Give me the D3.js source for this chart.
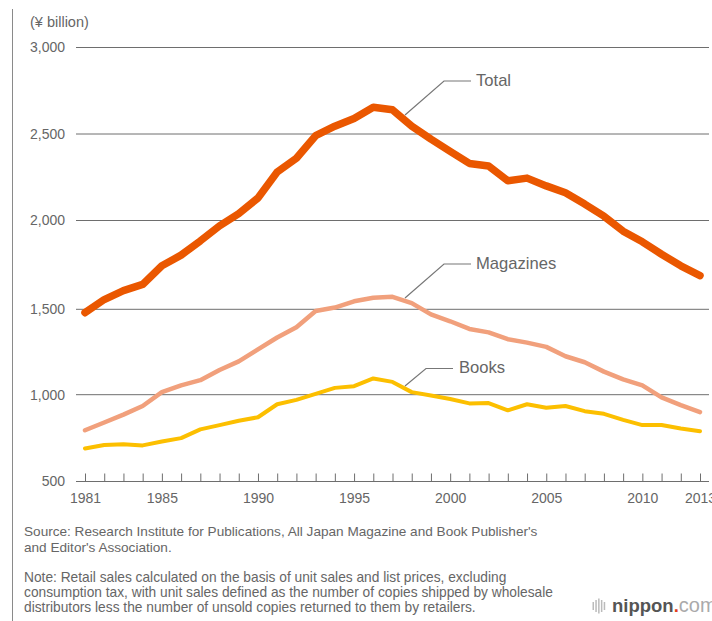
<!DOCTYPE html>
<html>
<head>
<meta charset="utf-8">
<script src="https://d3js.org/d3.v7.min.js"></script>
<style>
    html, body { margin: 0; background: #fff; overflow: hidden; }
    text { font-family: "Liberation Sans", sans-serif; fill: #666; }
</style>
</head>
<body>
<svg id="drawing_region"></svg>
<script>
const years = d3.range(1981, 2014);
const total = [1480, 1555, 1605, 1640, 1745, 1805, 1885, 1970, 2040, 2130, 2280, 2360, 2490, 2545, 2590, 2655, 2640,
    2545, 2470, 2400, 2330, 2315, 2230, 2245, 2200, 2160, 2095, 2025, 1940, 1880, 1810, 1745, 1690];
const magazines = [795, 840, 885, 935, 1015, 1055, 1085, 1145, 1195, 1265, 1335, 1395, 1490, 1510, 1545, 1565, 1570,
    1535, 1470, 1430, 1385, 1365, 1325, 1305, 1280, 1225, 1190, 1135, 1090, 1055, 985, 940, 900];
const books = [690, 710, 715, 708, 730, 750, 800, 825, 850, 870, 945, 970, 1005, 1040, 1050, 1095, 1075,
    1015, 995, 975, 950, 952, 910, 945, 925, 935, 905, 890, 855, 825, 825, 805, 790];
const y_ticks = [500, 1000, 1500, 2000, 2500, 3000];
const x_labels = [1981, 1985, 1990, 1995, 2000, 2005, 2010, 2013];
const source_lines = [
    "Source: Research Institute for Publications, All Japan Magazine and Book Publisher's",
    "and Editor's Association."
];
const note_lines = [
    "Note: Retail sales calculated on the basis of unit sales and list prices, excluding",
    "consumption tax, with unit sales defined as the number of copies shipped by wholesale",
    "distributors less the number of unsold copies returned to them by retailers."
];

const width = 712, height = 621;
const svg = d3.select('#drawing_region').attr('width', width).attr('height', height);

const xscale = d3.scaleLinear().domain([1981, 2013]).range([85, 700]);
// grid lines in the source are not quite evenly spaced
const yscale = d3.scaleLinear().domain(y_ticks).range([481.5, 394.7, 309.3, 220.5, 134, 47.5]);

// left rule
svg.append('line')
    .attr('x1', 12.5).attr('x2', 12.5)
    .attr('y1', 9).attr('y2', height)
    .attr('stroke', '#8a8a8a').attr('stroke-width', 1);

svg.append('text')
    .attr('x', 30).attr('y', 27)
    .attr('font-size', 14.5)
    .text('(¥ billion)');

// y axis, ticks are the grid lines
const yaxis = d3.axisLeft(yscale)
    .tickValues(y_ticks)
    .tickSize(0)
    .tickPadding(11)
    .tickFormat(d3.format(','));

const yaxis_group = svg.append('g').attr('transform', 'translate(76, 0)').call(yaxis);
yaxis_group.select('.domain').remove();
yaxis_group.selectAll('text').attr('font-size', 14).style('font-family', '"Liberation Sans", sans-serif');

svg.append('g').selectAll('line')
    .data(y_ticks)
    .enter()
    .append('line')
    .attr('x1', 76).attr('x2', 709)
    .attr('y1', d => yscale(d)).attr('y2', d => yscale(d))
    .attr('stroke', '#6e6e6e').attr('stroke-width', 1);

// x axis with inward ticks
const xaxis = d3.axisBottom(xscale)
    .tickValues(years)
    .tickSize(-8)
    .tickPadding(12)
    .tickFormat(d => x_labels.includes(d) ? d : '');

const xaxis_group = svg.append('g').attr('transform', `translate(0, ${yscale(500)})`).call(xaxis);
xaxis_group.select('.domain').remove();
xaxis_group.selectAll('line').attr('stroke', '#6e6e6e');
xaxis_group.selectAll('text').attr('font-size', 14).style('font-family', '"Liberation Sans", sans-serif');

const line = d3.line()
    .x((d, i) => xscale(years[i]))
    .y(d => yscale(d));

const series = [
    { values: books, color: '#fcbf00', size: 4 },
    { values: magazines, color: '#f1a07c', size: 4.5 },
    { values: total, color: '#ea5700', size: 7.5 }
];

svg.append('g').selectAll('path')
    .data(series)
    .enter()
    .append('path')
    .attr('d', d => line(d.values))
    .attr('fill', 'none')
    .attr('stroke', d => d.color)
    .attr('stroke-width', d => d.size)
    .attr('stroke-linejoin', 'round')
    .attr('stroke-linecap', 'round');

// callouts
const callouts = [
    { label: 'Total', pts: [[405, 115], [444, 81], [471, 81]], tx: 476, ty: 86 },
    { label: 'Magazines', pts: [[405, 298], [444, 264], [471, 264]], tx: 476, ty: 269 },
    { label: 'Books', pts: [[405, 386], [426, 368.5], [453, 368.5]], tx: 459, ty: 373 }
];

svg.append('g').selectAll('path')
    .data(callouts)
    .enter()
    .append('path')
    .attr('d', d => d3.line()(d.pts))
    .attr('fill', 'none')
    .attr('stroke', '#777')
    .attr('stroke-width', 1.2);

svg.append('g').selectAll('text')
    .data(callouts)
    .enter()
    .append('text')
    .attr('x', d => d.tx).attr('y', d => d.ty)
    .attr('font-size', 16.6)
    .text(d => d.label);

// footnotes
svg.append('g').selectAll('text')
    .data(source_lines)
    .enter()
    .append('text')
    .attr('x', 24).attr('y', (d, i) => 536 + i * 16)
    .attr('font-size', 13.6)
    .text(d => d);

svg.append('g').selectAll('text')
    .data(note_lines)
    .enter()
    .append('text')
    .attr('x', 24).attr('y', (d, i) => 582 + i * 15)
    .attr('font-size', 13.75)
    .text(d => d);

// nippon.com logo
svg.append('g').selectAll('rect')
    .data([0, 1, 2, 3, 4])
    .enter()
    .append('rect')
    .attr('x', d => 592.5 + d * 2.8)
    .attr('y', d => 606 - [4, 6, 7.5, 6, 4][d])
    .attr('width', 1.5)
    .attr('height', d => 2 * [4, 6, 7.5, 6, 4][d])
    .attr('fill', '#bbb');

const logo = svg.append('text')
    .attr('x', 612).attr('y', 611.5)
    .attr('font-size', 18.5)
    .attr('font-weight', 'bold')
    .style('fill', '#555');
logo.append('tspan').text('nippon');
logo.append('tspan').style('fill', '#e2401c').text('.');
logo.append('tspan').style('fill', '#aaa').attr('font-weight', 'normal').attr('font-size', 20).text('com');
</script>
</body>
</html>
